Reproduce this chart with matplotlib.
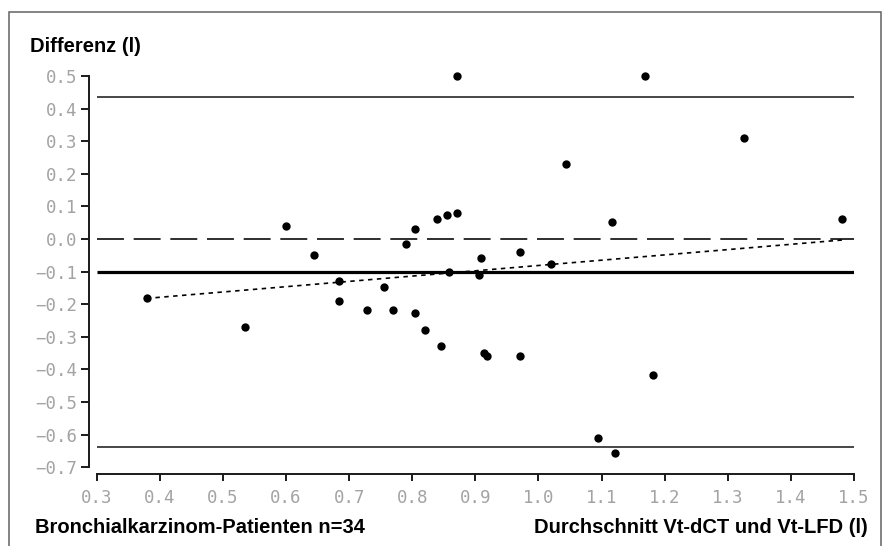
import matplotlib
matplotlib.use("Agg")
import matplotlib.pyplot as plt
from matplotlib.patches import Rectangle
from matplotlib.ticker import FixedLocator, FixedFormatter

# Bland-Altman data: mean of both methods (x) and their difference (y), in litres
mean_vol = [0.379, 0.535, 0.600, 0.645, 0.684, 0.684, 0.729, 0.756, 0.770,
            0.790, 0.804, 0.804, 0.821, 0.840, 0.845, 0.855, 0.858, 0.871,
            0.871, 0.905, 0.909, 0.914, 0.919, 0.970, 0.970, 1.020, 1.044,
            1.095, 1.116, 1.121, 1.169, 1.181, 1.325, 1.481]
diff_vol = [-0.180, -0.269, 0.040, -0.049, -0.129, -0.189, -0.218, -0.148,
            -0.218, -0.016, 0.030, -0.227, -0.278, 0.062, -0.329, 0.073,
            -0.101, 0.081, 0.500, -0.110, -0.059, -0.349, -0.358, -0.040,
            -0.358, -0.076, 0.230, -0.609, 0.053, -0.657, 0.500, -0.418,
            0.310, 0.062]

bias = -0.102
upper_loa = 0.435
lower_loa = -0.639
zero_line = 0.0

# regression trend of the differences
trend_x = [0.379, 1.481]
trend_y = [-0.182, -0.003]

x_ticks = [0.3, 0.4, 0.5, 0.6, 0.7, 0.8, 0.9, 1.0, 1.1, 1.2, 1.3, 1.4, 1.5]
y_ticks = [0.5, 0.4, 0.3, 0.2, 0.1, 0.0, -0.1, -0.2, -0.3, -0.4, -0.5, -0.6, -0.7]

y_title = "Differenz (l)"
x_title = "Durchschnitt Vt-dCT und Vt-LFD (l)"
group_label = "Bronchialkarzinom-Patienten n=34"

plt.rcParams["lines.scale_dashes"] = False

W, H = 882, 546
fig = plt.figure(figsize=(W / 100, H / 100), dpi=100)
fig.patch.set_facecolor("white")

ax = fig.add_axes([96.7 / W, (H - 467.3) / H, (854 - 96.7) / W, (467.3 - 76) / H])
ax.set_xlim(x_ticks[0], x_ticks[-1])
ax.set_ylim(y_ticks[-1], y_ticks[0])
ax.patch.set_alpha(0)

for s in ("top", "right"):
    ax.spines[s].set_visible(False)
ax.spines["left"].set_position(("outward", 8 * 0.72))
ax.spines["bottom"].set_position(("outward", 6.7 * 0.72))
ax.spines["left"].set_bounds(y_ticks[-1], y_ticks[0])
ax.spines["bottom"].set_bounds(x_ticks[0], x_ticks[-1])
for s in ("left", "bottom"):
    ax.spines[s].set_linewidth(1.4)
    ax.spines[s].set_color("#1a1a1a")

def fmt(v):
    return f"{v:.1f}".replace("-", "\u2212")

ax.xaxis.set_major_locator(FixedLocator(x_ticks))
ax.xaxis.set_major_formatter(FixedFormatter([fmt(v) for v in x_ticks]))
ax.yaxis.set_major_locator(FixedLocator(y_ticks))
ax.yaxis.set_major_formatter(FixedFormatter([fmt(v) for v in y_ticks]))
ax.tick_params(axis="x", length=4.8, width=1.4, color="#1a1a1a", pad=6,
               labelsize=12.5, labelcolor="#a3a3a3")
ax.tick_params(axis="y", length=5.5, width=1.4, color="#1a1a1a", pad=2.5,
               labelsize=12.5, labelcolor="#a3a3a3")
for lab in ax.get_xticklabels() + ax.get_yticklabels():
    lab.set_family("DejaVu Sans Mono")

x0, x1 = x_ticks[0], x_ticks[-1]
ax.plot([x0, x1], [upper_loa, upper_loa], color="#404040", lw=1.35, solid_capstyle="butt")
ax.plot([x0, x1], [lower_loa, lower_loa], color="#404040", lw=1.35, solid_capstyle="butt")
ax.plot([x0, x1], [bias, bias], color="black", lw=2.3, solid_capstyle="butt")
ax.plot([x0, x1], [zero_line, zero_line], color="black", lw=1.15,
        dashes=(19.4, 7.0), dash_capstyle="butt")
ax.plot(trend_x, trend_y, color="black", lw=1.2, dashes=(3.2, 3.2), dash_capstyle="butt")

ax.plot(mean_vol, diff_vol, "o", color="black", ms=6, mec="black", mew=0,
        clip_on=False, zorder=5)

bold = dict(family="Liberation Sans", weight="bold", size=14.5, color="black")
fig.text(30 / W, (H - 52.3) / H, y_title, ha="left", va="baseline", **bold)
fig.text(35 / W, (H - 533) / H, group_label, ha="left", va="baseline", **bold)
fig.text(868 / W, (H - 533) / H, x_title, ha="right", va="baseline", **bold)

# outer frame of the graphic
fig.patches.append(Rectangle((9 / W, -0.05), (881 - 9) / W, (H - 11.7) / H + 0.05,
                             transform=fig.transFigure, fill=False,
                             edgecolor="#6e6e6e", lw=1.2))

fig.savefig("out.png", dpi=100, facecolor="white")
